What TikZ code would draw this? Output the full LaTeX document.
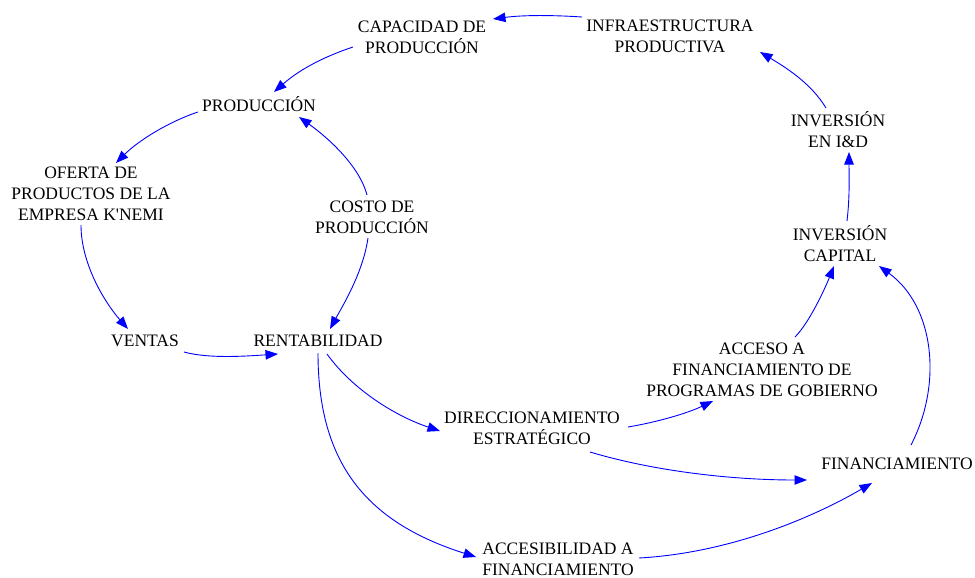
\documentclass[tikz,border=0pt]{standalone}
\usepackage{fontspec}
\setmainfont{Liberation Serif}[Ligatures=TeXOff]
\usetikzlibrary{arrows.meta}
\begin{document}
\begin{tikzpicture}[x=1pt,y=-1pt,
  var/.style={inner sep=0pt,align=center,font=\fontsize{17.5}{21}\selectfont},
  link/.style={draw={rgb,255:red,0;green,0;blue,255},line width=0.9pt,
    -{Triangle[length=12.5pt,width=9.5pt]}}]
\useasboundingbox (0,0) rectangle (975,578);
\node[var] (cap)    at (422,37)  {CAPACIDAD DE\\PRODUCCIÓN};
\node[var] (infra)  at (670,36)  {INFRAESTRUCTURA\\PRODUCTIVA};
\node[var] (prod)   at (259,104) {PRODUCCIÓN};
\node[var] (oferta) at (91,194)  {OFERTA DE\\PRODUCTOS DE LA\\EMPRESA K'NEMI};
\node[var] (costo)  at (372,217) {COSTO DE\\PRODUCCIÓN};
\node[var] (ind)    at (838,130) {INVERSIÓN\\EN I\&D};
\node[var] (invcap) at (840,244) {INVERSIÓN\\CAPITAL};
\node[var] (ventas) at (145,341) {VENTAS};
\node[var] (rent)   at (318,341) {RENTABILIDAD};
\node[var] (acceso) at (762,370) {ACCESO A\\FINANCIAMIENTO DE\\PROGRAMAS DE GOBIERNO};
\node[var] (dir)    at (532,428) {DIRECCIONAMIENTO\\ESTRATÉGICO};
\node[var] (fin)    at (897,464) {FINANCIAMIENTO};
\node[var] (accesib) at (558,559) {ACCESIBILIDAD A\\FINANCIAMIENTO};

% connectors
\draw[link] ([shift={(-88,-19)}]infra.center) .. controls +(-30,-2) and +(30,-4) .. ([shift={(71,-18)}]cap.center);
\draw[link] ([shift={(-69,10)}]cap.center) .. controls +(-30,10) and +(25,-22) .. ([shift={(15,-12)}]prod.center);
\draw[link] ([shift={(-61,8)}]prod.center) .. controls +(-30,10) and +(22,-22) .. ([shift={(25,-31)}]oferta.center);
\draw[link] ([shift={(-5,-22)}]costo.center) .. controls +(-8,-30) and +(28,20) .. ([shift={(40,13)}]prod.center);
\draw[link] ([shift={(-10,31)}]oferta.center) .. controls +(0,40) and +(-22,-25) .. ([shift={(-17,-12)}]ventas.center);
\draw[link] ([shift={(-4,21)}]costo.center) .. controls +(-5,35) and +(12,-22) .. ([shift={(12,-12)}]rent.center);
\draw[link] ([shift={(39,11)}]ventas.center) .. controls +(25,7) and +(-30,2) .. ([shift={(-40,13)}]rent.center);
\draw[link] ([shift={(9,13)}]rent.center) .. controls +(25,35) and +(-45,-15) .. ([shift={(-92,3)}]dir.center);
\draw[link] ([shift={(0,12)}]rent.center) .. controls +(0,110) and +(-110,-35) .. ([shift={(-82,-2)}]accesib.center);
\draw[link] ([shift={(96,-1)}]dir.center) .. controls +(30,-5) and +(-25,12) .. ([shift={(-49,31)}]acceso.center);
\draw[link] ([shift={(58,24)}]dir.center) .. controls +(60,18) and +(-80,0) .. ([shift={(-90,16)}]fin.center);
\draw[link] ([shift={(81,-1)}]accesib.center) .. controls +(90,-5) and +(-60,35) .. ([shift={(-25,19)}]fin.center);
\draw[link] ([shift={(33,-33)}]acceso.center) .. controls +(15,-15) and +(-8,20) .. ([shift={(-6,22)}]invcap.center);
\draw[link] ([shift={(14,-19)}]fin.center) .. controls +(32,-62) and +(55,40) .. ([shift={(39,22)}]invcap.center);
\draw[link] ([shift={(7,-23)}]invcap.center) .. controls +(3,-25) and +(0,20) .. ([shift={(11,22)}]ind.center);
\draw[link] ([shift={(-12,-22)}]ind.center) .. controls +(-15,-25) and +(25,15) .. ([shift={(90,16)}]infra.center);
\end{tikzpicture}
\end{document}
